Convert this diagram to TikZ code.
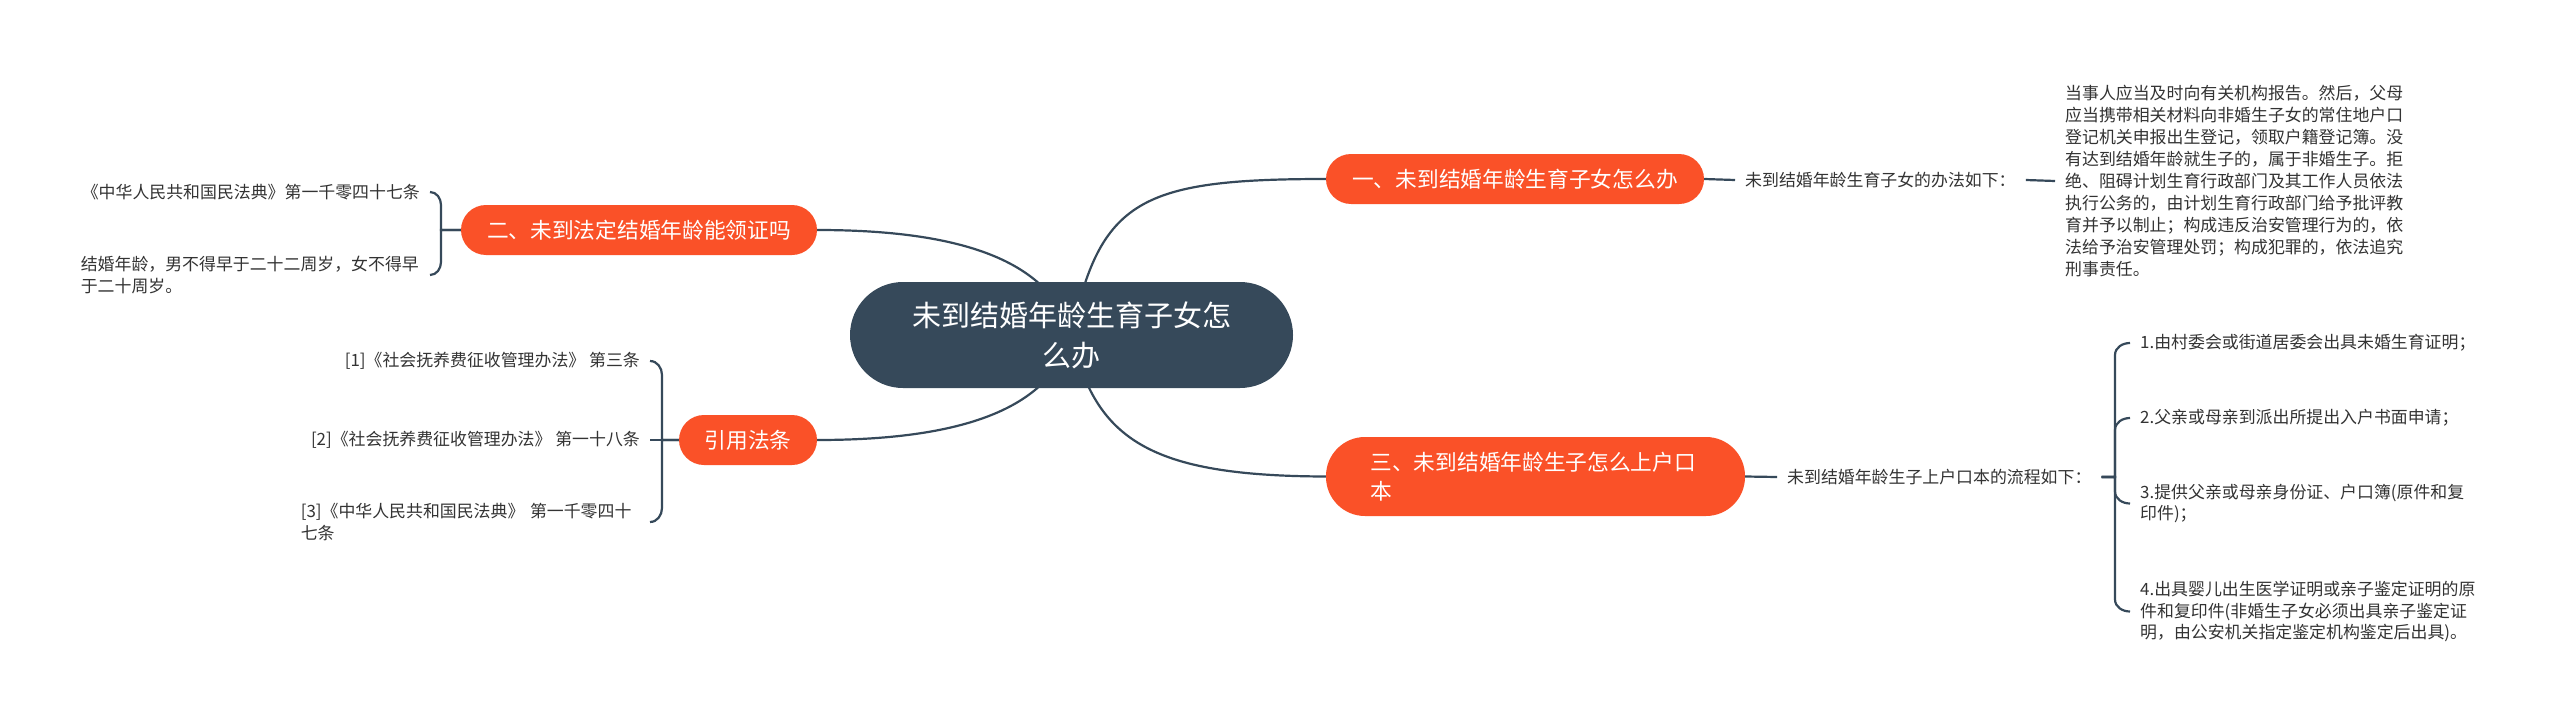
\documentclass[tikz,border=0pt]{standalone}
\usepackage{fontspec}
\setmainfont{Noto Sans CJK SC}
\usetikzlibrary{backgrounds,calc}
\definecolor{corange}{RGB}{250,81,40}
\definecolor{cdark}{RGB}{54,73,90}
\definecolor{ctext}{RGB}{51,51,51}
\begin{document}
\begin{tikzpicture}[x=1pt,y=1pt,
  central/.style={fill=cdark, text=white, rounded corners=53pt, minimum width=443pt, minimum height=106pt, align=center, font=\fontsize{29}{40}\selectfont, inner sep=0pt},
  mainnode/.style={fill=corange, text=white, font=\fontsize{21.7}{29}\selectfont, inner sep=0pt},
  pill/.style={mainnode, minimum height=50pt, rounded corners=25pt},
  leaf/.style={text=ctext, font=\fontsize{16.9}{21.5}\selectfont, inner xsep=10pt, inner ysep=0pt},
  para/.style={leaf, text width=340pt, align=left},
  conn/.style={draw=cdark, line width=2.2pt},
]
\useasboundingbox (0,0) rectangle (2560,-725);

% central and main nodes
\node[central] (c) at (1071.5,-335) {未到结婚年龄生育子女怎\\么办};
\node[pill, minimum width=378pt] (n1) at (1515,-179) {一、未到结婚年龄生育子女怎么办};
\node[pill, minimum width=356pt] (n2) at (639,-230) {二、未到法定结婚年龄能领证吗};
\node[pill, minimum width=138pt] (n4) at (748,-440) {引用法条};
\node[mainnode, minimum width=419pt, minimum height=79pt, rounded corners=39pt, text width=330pt, align=left] (n3) at (1535.5,-476.5) {三、未到结婚年龄生子怎么上户口\\本};

% branch 1
\node[leaf, anchor=west] (l1) at (1735,-180) {未到结婚年龄生育子女的办法如下：};
\node[para, anchor=west, font=\fontsize{16.9}{22}\selectfont] (l1p) at (2055,-181) {当事人应当及时向有关机构报告。然后，父母\\应当携带相关材料向非婚生子女的常住地户口\\登记机关申报出生登记，领取户籍登记簿。没\\有达到结婚年龄就生子的，属于非婚生子。拒\\绝、阻碍计划生育行政部门及其工作人员依法\\执行公务的，由计划生育行政部门给予批评教\\育并予以制止；构成违反治安管理行为的，依\\法给予治安管理处罚；构成犯罪的，依法追究\\刑事责任。};
\draw[conn] (n1.east) -- (l1.west);
\draw[conn] (l1.east) -- (l1p.west);

% branch 2
\node[leaf, anchor=east] (l2a) at (430,-192) {《中华人民共和国民法典》第一千零四十七条};
\node[leaf, anchor=east, text width=339pt, align=left] (l2b) at (430,-275) {结婚年龄，男不得早于二十二周岁，女不得早\\于二十周岁。};
\draw[conn] (l2a.east) to[out=0,in=90] ++(11,-13) |- (n2.west);
\draw[conn] (l2b.east) to[out=0,in=-90] ++(11,13) |- (n2.west);

% citations
\node[leaf, anchor=east] (r1) at (650,-361) {[1]《社会抚养费征收管理办法》 第三条};
\node[leaf, anchor=east] (r2) at (650,-440) {[2]《社会抚养费征收管理办法》 第一十八条};
\node[leaf, anchor=east, text width=339pt, align=left] (r3) at (650,-522) {[3]《中华人民共和国民法典》 第一千零四十\\七条};
\draw[conn] (r1.east) to[out=0,in=90] ++(12,-14) |- (n4.west);
\draw[conn] (r3.east) to[out=0,in=-90] ++(12,14) |- (n4.west);
\draw[conn] (r2.east) -- (n4.west);

% branch 3
\node[leaf, anchor=west] (l3) at (1777,-477) {未到结婚年龄生子上户口本的流程如下：};
\node[para, anchor=west, text width=350pt] (i1) at (2130,-343) {1.由村委会或街道居委会出具未婚生育证明；};
\node[para, anchor=west, text width=350pt] (i2) at (2130,-418) {2.父亲或母亲到派出所提出入户书面申请；};
\node[para, anchor=west, text width=350pt] (i3) at (2130,-503.5) {3.提供父亲或母亲身份证、户口簿(原件和复\\印件)；};
\node[para, anchor=west, text width=350pt] (i4) at (2130,-611.5) {4.出具婴儿出生医学证明或亲子鉴定证明的原\\件和复印件(非婚生子女必须出具亲子鉴定证\\明，由公安机关指定鉴定机构鉴定后出具)。};
\draw[conn] (n3.east) -- (l3.west);
\draw[conn] (l3.east) -| ($(i1.west)+(-15,-12)$) to[out=90,in=180] (i1.west);
\draw[conn] (l3.east) -| ($(i2.west)+(-15,-12)$) to[out=90,in=180] (i2.west);
\draw[conn] (l3.east) -| ($(i3.west)+(-15,12)$) to[out=-90,in=180] (i3.west);
\draw[conn] (l3.east) -| ($(i4.west)+(-15,12)$) to[out=-90,in=180] (i4.west);

% central connectors
\begin{pgfonlayer}{background}
\fill[white] (0,0) rectangle (2560,-725);
\draw[conn] (c.center) .. controls (1100,-200) and (1140,-179) .. (n1.west);
\draw[conn] (c.center) .. controls (1050,-260) and (960,-230) .. (n2.east);
\draw[conn] (c.center) .. controls (1050,-410) and (960,-440) .. (n4.east);
\draw[conn] (c.center) .. controls (1095,-440) and (1150,-476) .. (n3.west);
\end{pgfonlayer}
\end{tikzpicture}
\end{document}
